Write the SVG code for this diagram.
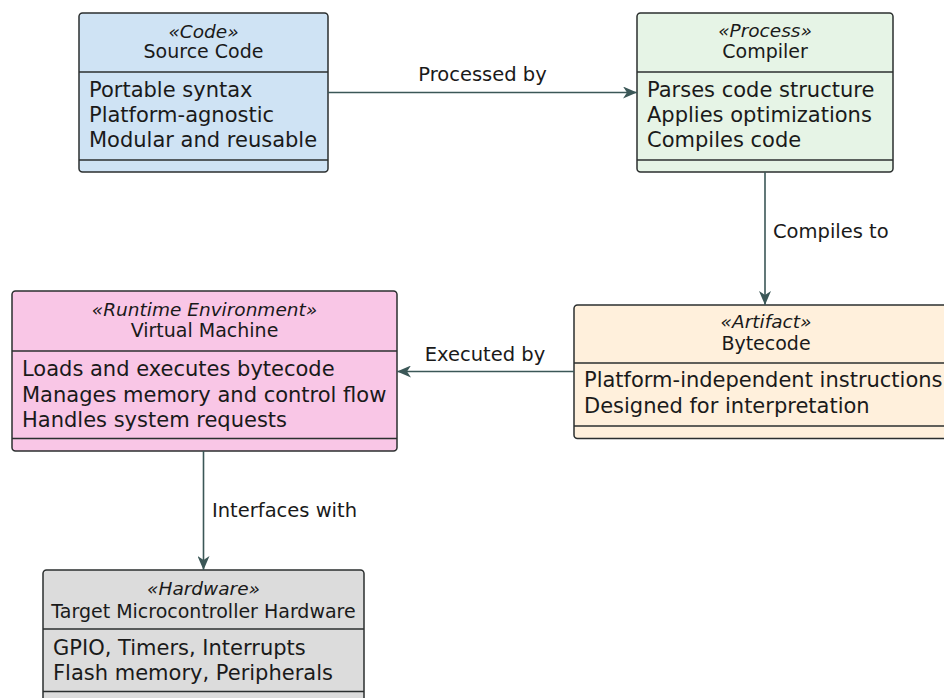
<svg xmlns="http://www.w3.org/2000/svg" width="944" height="698" viewBox="0 0 944 698">
  <style>
    .box { stroke: #2b2f2f; stroke-width: 1.5; }
    .sep { stroke: #2b2f2f; stroke-width: 1.5; fill: none; }
    .stereo { font-family: "DejaVu Sans", Verdana, sans-serif; font-style: italic; font-size: 18.5px; fill: #1a1a1a; text-anchor: middle; }
    .name { font-family: "DejaVu Sans", Verdana, sans-serif; font-size: 19px; fill: #1a1a1a; text-anchor: middle; }
    .body { font-family: "DejaVu Sans", Verdana, sans-serif; font-size: 21px; fill: #1a1a1a; }
    .lbl { font-family: "DejaVu Sans", Verdana, sans-serif; font-size: 19.5px; fill: #1a1a1a; }
    .edge { stroke: #3b5757; stroke-width: 1.6; fill: none; marker-end: url(#arrow); }
  </style>
  <defs>
    <marker id="arrow" markerUnits="userSpaceOnUse" viewBox="0 0 14 12" refX="14" refY="6" markerWidth="14" markerHeight="12" orient="auto">
      <path d="M0,0 L14,6 L0,12 L4,6 Z" fill="#3b5757"/>
    </marker>
  </defs>
  <rect width="944" height="698" fill="#ffffff"/>

  <!-- Source Code -->
  <g id="source-code">
    <rect class="box" x="79" y="13" width="249" height="159" rx="3.5" fill="#cfe3f4"/>
    <line class="sep" x1="79" y1="72" x2="328" y2="72"/>
    <line class="sep" x1="79" y1="160" x2="328" y2="160"/>
    <text class="stereo" x="203.5" y="38">«Code»</text>
    <text class="name" x="203.5" y="58">Source Code</text>
    <text class="body" x="89" y="97">Portable syntax</text>
    <text class="body" x="89" y="122">Platform-agnostic</text>
    <text class="body" x="89" y="147">Modular and reusable</text>
  </g>

  <!-- Compiler -->
  <g id="compiler">
    <rect class="box" x="637" y="13" width="256" height="159" rx="3.5" fill="#e6f4e6"/>
    <line class="sep" x1="637" y1="72" x2="893" y2="72"/>
    <line class="sep" x1="637" y1="160" x2="893" y2="160"/>
    <text class="stereo" x="765" y="37">«Process»</text>
    <text class="name" x="765" y="58">Compiler</text>
    <text class="body" x="647" y="97">Parses code structure</text>
    <text class="body" x="647" y="122">Applies optimizations</text>
    <text class="body" x="647" y="147">Compiles code</text>
  </g>

  <!-- Virtual Machine -->
  <g id="virtual-machine">
    <rect class="box" x="12" y="291" width="385" height="160" rx="3.5" fill="#f9c6e6"/>
    <line class="sep" x1="12" y1="351" x2="397" y2="351"/>
    <line class="sep" x1="12" y1="438.5" x2="397" y2="438.5"/>
    <text class="stereo" x="204.5" y="316">«Runtime Environment»</text>
    <text class="name" x="204.5" y="337">Virtual Machine</text>
    <text class="body" x="22" y="376">Loads and executes bytecode</text>
    <text class="body" x="22" y="401.5">Manages memory and control flow</text>
    <text class="body" x="22" y="426.5">Handles system requests</text>
  </g>

  <!-- Bytecode -->
  <g id="bytecode">
    <rect class="box" x="574" y="305" width="384" height="133.5" rx="3.5" fill="#fff0dc"/>
    <line class="sep" x1="574" y1="363" x2="958" y2="363"/>
    <line class="sep" x1="574" y1="426" x2="958" y2="426"/>
    <text class="stereo" x="766" y="328">«Artifact»</text>
    <text class="name" x="766" y="350">Bytecode</text>
    <text class="body" x="584" y="387">Platform-independent instructions</text>
    <text class="body" x="584" y="413">Designed for interpretation</text>
  </g>

  <!-- Target Microcontroller Hardware -->
  <g id="hardware">
    <rect class="box" x="43" y="570" width="321" height="134" rx="3.5" fill="#dcdcdc"/>
    <line class="sep" x1="43" y1="629" x2="364" y2="629"/>
    <line class="sep" x1="43" y1="691.5" x2="364" y2="691.5"/>
    <text class="stereo" x="203.5" y="595">«Hardware»</text>
    <text class="name" x="203.5" y="618">Target Microcontroller Hardware</text>
    <text class="body" x="53" y="655">GPIO, Timers, Interrupts</text>
    <text class="body" x="53" y="680">Flash memory, Peripherals</text>
  </g>

  <!-- Connectors -->
  <g id="connectors">
    <line class="edge" x1="328" y1="92.5" x2="637" y2="92.5"/>
    <text class="lbl" x="482.5" y="81" text-anchor="middle">Processed by</text>

    <line class="edge" x1="765" y1="172" x2="765" y2="305"/>
    <text class="lbl" x="773" y="238">Compiles to</text>

    <line class="edge" x1="574" y1="371.5" x2="397" y2="371.5"/>
    <text class="lbl" x="485" y="361" text-anchor="middle">Executed by</text>

    <line class="edge" x1="203.5" y1="451" x2="203.5" y2="570"/>
    <text class="lbl" x="212" y="517">Interfaces with</text>
  </g>
</svg>
